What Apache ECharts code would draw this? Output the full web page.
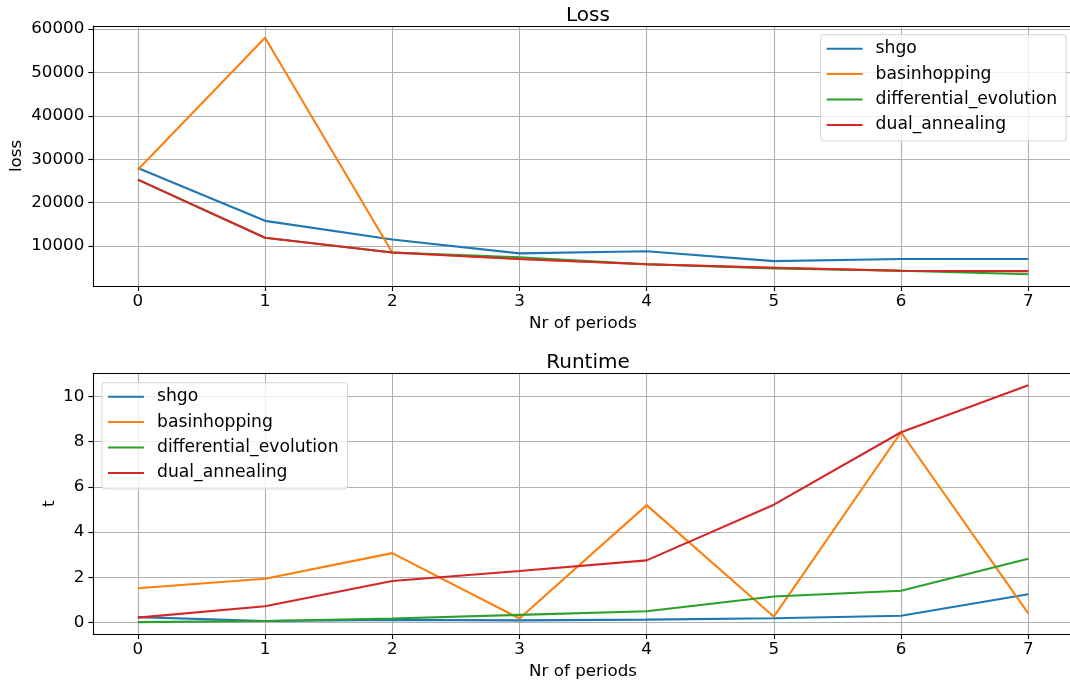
<!DOCTYPE html>
<html>
<head>
<meta charset="utf-8">
<script src="https://cdn.jsdelivr.net/npm/echarts@6/dist/echarts.min.js"></script>
<style>
    html, body { margin: 0; padding: 0; background: #fff; }
    #chart { width: 1070px; height: 684px; }
</style>
</head>
<body>
<div id="chart"></div>
<script>
var periods = [0, 1, 2, 3, 4, 5, 6, 7];
var methods = ['shgo', 'basinhopping', 'differential_evolution', 'dual_annealing'];
var colors = ['#1f77b4', '#ff7f0e', '#2ca02c', '#d62728'];

// loss per period
var lossShgo = [28000, 15800, 11500, 8300, 8800, 6500, 7000, 7000];
var lossBasin = [27600, 58000, 8500, 7000, 5800, 5000, 4300, 4200];
var lossDiff = [25300, 11900, 8500, 7400, 5800, 4800, 4300, 3500];
var lossDual = [25300, 11900, 8500, 7000, 5800, 5000, 4300, 4200];

// runtime per period
var timeShgo = [0.24, 0.07, 0.12, 0.10, 0.13, 0.19, 0.30, 1.25];
var timeBasin = [1.52, 1.94, 3.07, 0.18, 5.19, 0.26, 8.41, 0.41];
var timeDiff = [0.02, 0.07, 0.18, 0.34, 0.50, 1.15, 1.41, 2.82];
var timeDual = [0.22, 0.72, 1.84, 2.28, 2.75, 5.21, 8.41, 10.49];

// tick labels
var xTicks = [0, 1, 2, 3, 4, 5, 6, 7];
var lossTicks = [10000, 20000, 30000, 40000, 50000, 60000];
var timeTicks = [0, 2, 4, 6, 8, 10];

var lossData = [lossShgo, lossBasin, lossDiff, lossDual];
var timeData = [timeShgo, timeBasin, timeDiff, timeDual];

var font = 'DejaVu Sans';

// matplotlib-like 5% margins
function limits(arrs) {
    var all = [].concat.apply([], arrs);
    var lo = Math.min.apply(null, all), hi = Math.max.apply(null, all);
    var m = (hi - lo) * 0.05;
    return [lo - m, hi + m];
}
var lossLim = limits(lossData);
var timeLim = limits(timeData);
var xLim = limits([periods]);

function pairs(arr) {
    return periods.map(function (p, i) { return [p, arr[i]]; });
}

function plain(v) { return String(v); }

var frameLine = {show: true, onZero: false, lineStyle: {color: '#000', width: 1.1}};

function makeX(idx) {
    return {
        type: 'value', gridIndex: idx,
        min: xLim[0], max: xLim[1], splitNumber: 8,
        name: 'Nr of periods', nameLocation: 'middle', nameGap: 29, nameMoveOverlap: false,
        nameTextStyle: {fontFamily: font, fontSize: 16.7, color: '#000'},
        axisLine: frameLine,
        axisTick: {show: true, length: 5, customValues: xTicks, lineStyle: {color: '#000', width: 1.1}},
        axisLabel: {margin: 7, fontFamily: font, fontSize: 16.7, color: '#000', customValues: xTicks, formatter: plain},
        splitLine: {show: true, lineStyle: {color: '#b0b0b0', width: 1.1}}
    };
}

// top spine only
function makeTop(idx) {
    return {
        type: 'value', gridIndex: idx, position: 'top',
        min: xLim[0], max: xLim[1],
        axisLine: frameLine, axisTick: {show: false}, axisLabel: {show: false}, splitLine: {show: false}
    };
}

function makeY(idx, lim, ticks, name, gap) {
    return {
        type: 'value', gridIndex: idx,
        min: lim[0], max: lim[1], splitNumber: 5,
        name: name, nameLocation: 'middle', nameGap: gap, nameMoveOverlap: false,
        nameTextStyle: {fontFamily: font, fontSize: 16.7, color: '#000'},
        axisLine: frameLine,
        axisTick: {show: true, length: 5, customValues: ticks, lineStyle: {color: '#000', width: 1.1}},
        axisLabel: {margin: 9, fontFamily: font, fontSize: 16.7, color: '#000', customValues: ticks, formatter: plain},
        splitLine: {show: true, lineStyle: {color: '#b0b0b0', width: 1.1}}
    };
}

function makeLegend(left, top) {
    return {
        data: methods, orient: 'vertical', left: left, top: top,
        icon: 'rect', itemWidth: 36, itemHeight: 2, itemGap: 5.4,
        padding: [4, 9, 6, 6],
        backgroundColor: 'rgba(255,255,255,0.8)',
        borderColor: '#d5d5d5', borderWidth: 1, borderRadius: 3,
        textStyle: {fontFamily: font, fontSize: 17.2, color: '#000', lineHeight: 20, padding: [0, 0, 0, 8]}
    };
}

var series = [];
methods.forEach(function (m, i) {
    series.push({
        name: m, type: 'line', xAxisIndex: 0, yAxisIndex: 0,
        data: pairs(lossData[i]), showSymbol: false,
        lineStyle: {width: 2.1, color: colors[i]}, itemStyle: {color: colors[i]}
    });
});
methods.forEach(function (m, i) {
    series.push({
        name: m, type: 'line', xAxisIndex: 1, yAxisIndex: 1,
        data: pairs(timeData[i]), showSymbol: false,
        lineStyle: {width: 2.1, color: colors[i]}, itemStyle: {color: colors[i]}
    });
});

var option = {
    animation: false,
    backgroundColor: '#fff',
    title: [
        {text: 'Loss', left: 583, top: 1, textAlign: 'center',
            textStyle: {fontFamily: font, fontSize: 20, fontWeight: 'normal', color: '#000'}},
        {text: 'Runtime', left: 583, top: 348, textAlign: 'center',
            textStyle: {fontFamily: font, fontSize: 20, fontWeight: 'normal', color: '#000'}}
    ],
    legend: [makeLegend(820.6, 34.7), makeLegend(102, 382.7)],
    grid: [
        {left: 93.3, top: 26, right: -2.8, height: 260, outerBoundsMode: 'none', show: false},
        {left: 93.3, top: 373.3, right: -2.8, height: 260.7, outerBoundsMode: 'none', show: false}
    ],
    xAxis: [makeX(0), makeX(1), makeTop(0), makeTop(1)],
    yAxis: [makeY(0, lossLim, lossTicks, 'loss', 68), makeY(1, timeLim, timeTicks, 't', 35.5)],
    series: series
};

var myChart = echarts.init(document.getElementById('chart'));
myChart.setOption(option);
</script>
</body>
</html>
